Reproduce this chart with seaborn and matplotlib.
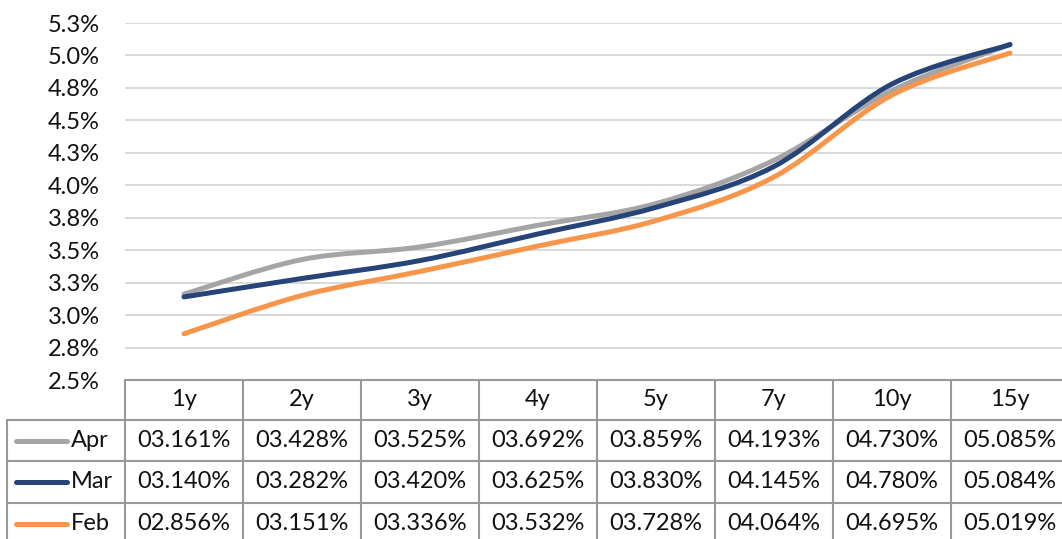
import matplotlib
matplotlib.use("Agg")
import numpy as np
import matplotlib.pyplot as plt
import seaborn as sns
from matplotlib.path import Path
from matplotlib.patches import PathPatch
from matplotlib.lines import Line2D
from matplotlib.transforms import blended_transform_factory
from matplotlib.ticker import FuncFormatter, FixedLocator
from decimal import Decimal, ROUND_HALF_UP

# Yield curve by tenor, in percent
tenors = ["1y", "2y", "3y", "4y", "5y", "7y", "10y", "15y"]
series_names = ["Apr", "Mar", "Feb"]
apr = [3.161, 3.428, 3.525, 3.692, 3.859, 4.193, 4.730, 5.085]
mar = [3.140, 3.282, 3.420, 3.625, 3.830, 4.145, 4.780, 5.084]
feb = [2.856, 3.151, 3.336, 3.532, 3.728, 4.064, 4.695, 5.019]
y_ticks = [2.5, 2.75, 3.0, 3.25, 3.5, 3.75, 4.0, 4.25, 4.5, 4.75, 5.0, 5.25]
line_colors = ["#A5A5A5", "#264478", "#F7964A"]

sns.set_theme(style="white")
plt.rcParams["font.family"] = ["Lato", "DejaVu Sans"]
palette = sns.color_palette(line_colors)
text_color = "#111111"
grid_color = "#D9D9D9"
border_color = "#999999"
FS = 17

W, H = 1062, 539
fig = plt.figure(figsize=(W / 100, H / 100), dpi=100)
ax = fig.add_axes([125 / W, (H - 380) / H, 944 / W, 357 / H])

x = np.arange(len(tenors))


def smooth_path(xs, ys):
    """Catmull-Rom style Bezier path through the points (spreadsheet smoothing)."""
    pts = np.column_stack([xs, ys]).astype(float)
    n = len(pts)
    verts = [pts[0]]
    codes = [Path.MOVETO]
    for i in range(n - 1):
        p0 = pts[i - 1] if i > 0 else pts[i]
        p1, p2 = pts[i], pts[i + 1]
        p3 = pts[i + 2] if i + 2 < n else pts[i + 1]
        verts += [p1 + (p2 - p0) / 6, p2 - (p3 - p1) / 6, p2]
        codes += [Path.CURVE4] * 3
    return Path(verts, codes)


for vals, col in zip([apr, mar, feb], palette):
    patch = PathPatch(smooth_path(x, vals), facecolor="none", edgecolor=col,
                      lw=3.6, capstyle="round", joinstyle="round", zorder=3)
    ax.add_patch(patch)

ax.set_xlim(-0.5, len(tenors) - 0.5)
ax.set_ylim(y_ticks[0], y_ticks[-1])
ax.yaxis.set_major_locator(FixedLocator(y_ticks))


def pct_fmt(v, _):
    d = Decimal(str(round(v, 4))).quantize(Decimal("0.1"), rounding=ROUND_HALF_UP)
    return f"{d}%"


ax.yaxis.set_major_formatter(FuncFormatter(pct_fmt))
ax.set_xticks([])
ax.tick_params(axis="y", length=0, pad=18, labelsize=FS, labelcolor=text_color)
ax.grid(axis="y", color=grid_color, lw=1.4, zorder=0)
for s in ax.spines.values():
    s.set_visible(False)

# Data table beneath the plot: x in data units, y in pixels from the top
tr = blended_transform_factory(ax.transData, fig.transFigure)


def fy(py):
    return 1 - py / H


row_edges = [380, 420, 461, 503, 545]
lw_b = 1.5
left = -1.5
right = len(tenors) - 0.5

# horizontal borders
fig.add_artist(Line2D([-0.5, right], [fy(380), fy(380)], transform=tr,
                      color=border_color, lw=lw_b))
for py in row_edges[1:]:
    fig.add_artist(Line2D([left, right], [fy(py), fy(py)], transform=tr,
                          color=border_color, lw=lw_b))
# vertical borders
fig.add_artist(Line2D([left, left], [fy(420), fy(545)], transform=tr,
                      color=border_color, lw=lw_b))
for xb in np.arange(-0.5, right + 0.01, 1.0):
    fig.add_artist(Line2D([xb, xb], [fy(380), fy(545)], transform=tr,
                          color=border_color, lw=lw_b))

# header row
hy = (row_edges[0] + row_edges[1]) / 2
for xi, t in zip(x, tenors):
    fig.text(xi, fy(hy), t, transform=tr, ha="center", va="center",
             fontsize=FS, color=text_color)

# series rows with legend keys
for r, (name, vals, col) in enumerate(zip(series_names, [apr, mar, feb], palette)):
    cy = (row_edges[r + 1] + row_edges[r + 2]) / 2
    fig.add_artist(Line2D([-1.42, -0.99], [fy(cy), fy(cy)], transform=tr,
                          color=col, lw=3.6, solid_capstyle="round"))
    fig.text(-0.955, fy(cy), name, transform=tr, ha="left", va="center",
             fontsize=FS, color=text_color)
    for xi, v in zip(x, vals):
        fig.text(xi, fy(cy), f"{v:06.3f}%", transform=tr, ha="center",
                 va="center", fontsize=FS, color=text_color)

fig.savefig("out.png", dpi=100)
